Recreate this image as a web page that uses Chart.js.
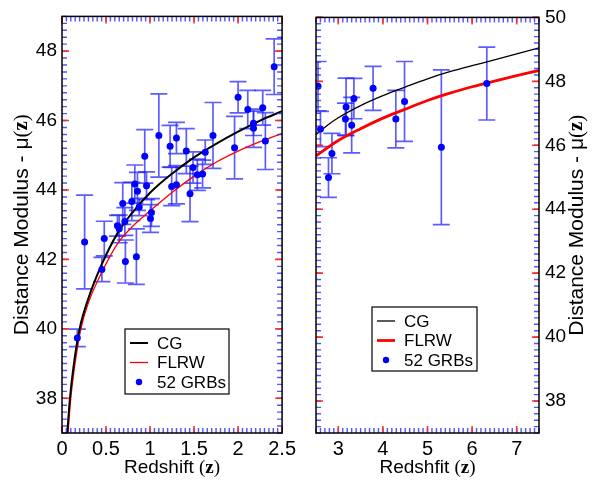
<!DOCTYPE html>
<html>
<head>
<meta charset="utf-8">
<script src="https://cdn.jsdelivr.net/npm/chart.js@4"></script>
<style>
  body { margin: 0; background: #fff; }
  #wrap { position: relative; width: 601px; height: 482px; }
  canvas { position: absolute; top: 0; }
  #left { left: 0; }
  #right { left: 300px; }
</style>
</head>
<body>
<div id="wrap">
  <canvas id="left" width="300" height="482"></canvas>
  <canvas id="right" width="301" height="482"></canvas>
</div>
<script>
// GRB points, low redshift panel
const lowZ   = [2.41, 2.00, 2.11, 2.28, 2.175, 2.175, 2.31, 1.96, 1.715, 1.627, 1.597, 1.537, 1.488, 1.412, 1.454, 1.30, 1.228, 1.246, 1.30, 1.10, 0.94, 0.96, 0.827, 0.857, 0.793, 0.69, 0.877, 1.016, 1.005, 0.714, 0.63, 0.65, 0.48, 0.174, 0.257, 0.453, 0.72, 0.845];
const lowMu  = [47.55, 46.67, 46.32, 46.37, 45.92, 45.78, 45.41, 45.22, 45.57, 45.09, 44.46, 44.44, 44.65, 45.12, 43.89, 45.50, 45.26, 44.10, 44.15, 45.57, 44.97, 44.12, 44.17, 43.96, 43.67, 43.61, 43.51, 43.35, 43.18, 43.09, 42.97, 42.88, 42.60, 39.74, 42.50, 41.71, 41.94, 42.08];
const lowErr = [0.80, 0.45, 0.55, 0.50, 0.35, 0.55, 0.82, 0.90, 0.95, 0.35, 0.40, 0.45, 0.45, 0.65, 0.80, 0.45, 0.60, 0.55, 0.55, 1.20, 0.77, 0.40, 0.55, 0.55, 0.55, 0.60, 0.25, 0.40, 0.40, 0.40, 0.30, 0.40, 0.50, 0.25, 1.35, 0.35, 0.62, 0.80];

// GRB points, high redshift panel
const highZ   = [2.545, 2.60, 2.78, 2.857, 3.175, 3.16, 3.30, 3.35, 3.78, 4.29, 4.485, 5.31, 6.33];
const highMu  = [47.85, 46.51, 44.99, 45.74, 47.20, 46.82, 46.63, 47.46, 47.78, 46.82, 47.37, 45.94, 47.93];
const highErr = [0.77, 0.55, 0.62, 0.63, 0.90, 0.50, 0.87, 0.63, 0.69, 0.90, 1.25, 2.42, 1.14];

// model curves
const cgLowZ    = [0.06, 0.09, 0.13, 0.2, 0.3, 0.45, 0.63, 0.8, 1.0, 1.25, 1.5, 1.75, 2.0, 2.25, 2.5];
const cgLowMu   = [37.0, 38.0, 38.9, 40.0, 40.88, 41.85, 42.75, 43.35, 43.92, 44.47, 44.94, 45.33, 45.68, 46.0, 46.27];
const flrwLowZ  = [0.068, 0.1, 0.14, 0.21, 0.3, 0.45, 0.63, 0.8, 1.0, 1.25, 1.5, 1.75, 2.0, 2.25, 2.5];
const flrwLowMu = [37.0, 38.0, 38.85, 39.95, 40.75, 41.62, 42.45, 42.95, 43.4, 43.93, 44.4, 44.8, 45.12, 45.39, 45.63];
const cgHighZ    = [2.5, 2.75, 3.0, 3.5, 4.0, 4.5, 5.0, 5.5, 6.0, 6.5, 7.0, 7.5];
const cgHighMu   = [46.33, 46.62, 46.86, 47.24, 47.55, 47.82, 48.08, 48.3, 48.49, 48.67, 48.86, 49.05];
const flrwHighZ  = [2.5, 3.0, 3.5, 4.0, 4.5, 5.0, 5.5, 6.0, 6.5, 7.0, 7.5];
const flrwHighMu = [45.67, 46.15, 46.52, 46.85, 47.13, 47.4, 47.63, 47.83, 48.01, 48.18, 48.34];

// tick labels
const xTicksLow  = [0, 0.5, 1, 1.5, 2, 2.5];
const yTicksLow  = [38, 40, 42, 44, 46, 48];
const xTicksHigh = [3, 4, 5, 6, 7];
const yTicksHigh = [38, 40, 42, 44, 46, 48, 50];

const SANS = '"Liberation Sans", Arial, sans-serif';
const SERIF = '"Liberation Serif", "Times New Roman", serif';

function pts(xs, ys) {
    return xs.map((v, i) => ({ x: v, y: ys[i] }));
}

// vertical error bars with caps, drawn under the datasets
const errorBars = {
    id: 'errorBars',
    beforeDatasetsDraw(chart) {
        const { ctx, chartArea: a, scales: { x, y } } = chart;
        ctx.save();
        ctx.beginPath();
        ctx.rect(a.left, a.top, a.right - a.left, a.bottom - a.top);
        ctx.clip();
        ctx.strokeStyle = 'rgba(30,30,255,0.72)';
        ctx.lineWidth = 1.7;
        chart.data.datasets.forEach(ds => {
            if (!ds.errors) return;
            ds.data.forEach((p, i) => {
                const px = x.getPixelForValue(p.x);
                const top = y.getPixelForValue(p.y + ds.errors[i]);
                const bot = y.getPixelForValue(p.y - ds.errors[i]);
                ctx.beginPath();
                ctx.moveTo(px, top); ctx.lineTo(px, bot);
                ctx.moveTo(px - 8.5, top); ctx.lineTo(px + 8.5, top);
                ctx.moveTo(px - 8.5, bot); ctx.lineTo(px + 8.5, bot);
                ctx.stroke();
            });
        });
        ctx.restore();
    }
};

// frame with inward ticks on all four sides
const frameTicks = {
    id: 'frameTicks',
    afterDraw(chart) {
        const ctx = chart.ctx;
        const a = chart.chartArea;
        const x = chart.scales.x, y = chart.scales.y;
        const step = chart.config.options.minorSteps;
        ctx.save();
        ctx.lineWidth = 1.4;
        ctx.strokeStyle = 'rgba(40,40,255,0.8)';
        ctx.beginPath();
        const nx = Math.round((x.max - x.min) / step.x);
        for (let i = 0; i <= nx; i++) {
            const px = x.getPixelForValue(x.min + i * step.x);
            ctx.moveTo(px, a.bottom); ctx.lineTo(px, a.bottom - 5);
            ctx.moveTo(px, a.top); ctx.lineTo(px, a.top + 5);
        }
        const ny = Math.round((y.max - y.min) / step.y);
        for (let i = 0; i <= ny; i++) {
            const py = y.getPixelForValue(y.min + i * step.y);
            ctx.moveTo(a.left, py); ctx.lineTo(a.left + 5, py);
            ctx.moveTo(a.right, py); ctx.lineTo(a.right - 5, py);
        }
        ctx.stroke();

        ctx.strokeStyle = 'rgba(255,40,40,0.95)';
        ctx.lineWidth = 1.6;
        ctx.beginPath();
        x.ticks.forEach(t => {
            const px = x.getPixelForValue(t.value);
            ctx.moveTo(px, a.bottom); ctx.lineTo(px, a.bottom - 7);
            ctx.moveTo(px, a.top); ctx.lineTo(px, a.top + 7);
        });
        y.ticks.forEach(t => {
            const py = y.getPixelForValue(t.value);
            ctx.moveTo(a.left, py); ctx.lineTo(a.left + 7, py);
            ctx.moveTo(a.right, py); ctx.lineTo(a.right - 7, py);
        });
        ctx.stroke();

        ctx.strokeStyle = '#000';
        ctx.lineWidth = 1.5;
        ctx.strokeRect(a.left, a.top, a.right - a.left, a.bottom - a.top);
        ctx.restore();
    }
};

function drawRich(ctx, parts, cx, cy, angle) {
    ctx.save();
    ctx.translate(cx, cy);
    ctx.rotate(angle);
    ctx.textBaseline = 'middle';
    ctx.textAlign = 'left';
    ctx.fillStyle = '#000';
    let total = 0;
    parts.forEach(p => { ctx.font = p.font; total += ctx.measureText(p.text).width; });
    let pos = -total / 2;
    parts.forEach(p => {
        ctx.font = p.font;
        ctx.fillText(p.text, pos, 0);
        pos += ctx.measureText(p.text).width;
    });
    ctx.restore();
}

// axis titles with the bold serif z
const axisTitles = {
    id: 'axisTitles',
    afterDraw(chart) {
        const t = chart.config.options.titles;
        const { ctx, chartArea: a } = chart;
        const yMid = (a.top + a.bottom) / 2;
        const xMid = (a.left + a.right) / 2;
        drawRich(ctx, [
            { text: 'Distance Modulus - μ', font: '21px ' + SANS },
            { text: '(', font: '21px ' + SERIF },
            { text: 'z', font: 'bold 21px ' + SERIF },
            { text: ')', font: '21px ' + SERIF }
        ], t.yTitleX, yMid, -Math.PI / 2);
        drawRich(ctx, [
            { text: t.xTitle + ' ', font: '19px ' + SANS },
            { text: '(', font: '19px ' + SERIF },
            { text: 'z', font: 'bold 19px ' + SERIF },
            { text: ')', font: '19px ' + SERIF }
        ], xMid, t.xTitleY, 0);
    }
};

// boxed legend inside the plot
const boxLegend = {
    id: 'boxLegend',
    afterDraw(chart) {
        const box = chart.config.options.legendBox;
        const { ctx } = chart;
        ctx.save();
        ctx.fillStyle = '#fff';
        ctx.fillRect(box.x, box.y, box.w, box.h);
        ctx.strokeStyle = '#000';
        ctx.lineWidth = 1.2;
        ctx.strokeRect(box.x, box.y, box.w, box.h);
        ctx.font = '17px ' + SANS;
        ctx.textBaseline = 'middle';
        ctx.textAlign = 'left';
        chart.data.datasets.forEach((ds, i) => {
            const ry = box.y + 14 + i * 19.5;
            if (ds.showLine) {
                ctx.strokeStyle = ds.borderColor;
                ctx.lineWidth = ds.legendWidth;
                ctx.beginPath();
                ctx.moveTo(box.x + 5, ry); ctx.lineTo(box.x + 23, ry);
                ctx.stroke();
            } else {
                ctx.fillStyle = ds.backgroundColor;
                ctx.beginPath();
                ctx.arc(box.x + 14, ry, 3.2, 0, Math.PI * 2);
                ctx.fill();
            }
            ctx.fillStyle = '#000';
            ctx.fillText(ds.label, box.x + 32, ry + 1);
        });
        ctx.restore();
    }
};

function makeChart(id, cfg) {
    const ctx = document.getElementById(id).getContext('2d');
    return new Chart(ctx, {
        type: 'scatter',
        data: {
            datasets: [{
                label: 'CG',
                data: pts(cfg.cgZ, cfg.cgMu),
                showLine: true,
                borderColor: '#000',
                borderWidth: cfg.cgWidth,
                legendWidth: cfg.cgWidth,
                pointRadius: 0,
                cubicInterpolationMode: 'monotone',
                order: 1
            }, {
                label: 'FLRW',
                data: pts(cfg.flrwZ, cfg.flrwMu),
                showLine: true,
                borderColor: '#ff0000',
                borderWidth: cfg.flrwWidth,
                legendWidth: cfg.flrwWidth,
                pointRadius: 0,
                cubicInterpolationMode: 'monotone',
                order: 2
            }, {
                label: '52 GRBs',
                data: pts(cfg.z, cfg.mu),
                errors: cfg.err,
                backgroundColor: '#0000ff',
                borderColor: '#0000ff',
                pointRadius: 3.5,
                pointBorderWidth: 0,
                order: 0
            }]
        },
        options: {
            responsive: false,
            animation: false,
            devicePixelRatio: 1,
            minorSteps: { x: cfg.xMinor, y: 0.2 },
            titles: { xTitle: cfg.xTitle, xTitleY: 468, yTitleX: cfg.yTitleX },
            legendBox: cfg.legend,
            layout: { autoPadding: false, padding: cfg.padding },
            scales: {
                x: {
                    type: 'linear',
                    min: cfg.xMin, max: cfg.xMax,
                    grid: { display: false, drawTicks: false },
                    border: { display: false },
                    afterBuildTicks: s => { s.ticks = cfg.xTicks.map(v => ({ value: v })); },
                    afterFit: s => { s.height = 49; },
                    ticks: {
                        autoSkip: false, maxRotation: 0, padding: 4,
                        color: '#000', font: { family: SANS, size: 20 },
                        callback: v => String(v)
                    }
                },
                y: {
                    type: 'linear',
                    position: cfg.yPos,
                    min: cfg.yMin, max: cfg.yMax,
                    grid: { display: false, drawTicks: false },
                    border: { display: false },
                    afterBuildTicks: s => { s.ticks = cfg.yTicks.map(v => ({ value: v })); },
                    afterFit: s => { s.width = 62; },
                    ticks: {
                        autoSkip: false, padding: cfg.yPad,
                        color: '#000', font: { family: SANS, size: 19 },
                        callback: v => String(v)
                    }
                }
            },
            plugins: {
                legend: { display: false },
                tooltip: { enabled: false }
            }
        },
        plugins: [errorBars, frameTicks, axisTitles, boxLegend]
    });
}

makeChart('left', {
    z: lowZ, mu: lowMu, err: lowErr,
    cgZ: cgLowZ, cgMu: cgLowMu, flrwZ: flrwLowZ, flrwMu: flrwLowMu,
    cgWidth: 2, flrwWidth: 1.3,
    xMin: 0, xMax: 2.5, yMin: 37, yMax: 49,
    xTicks: xTicksLow, yTicks: yTicksLow, xMinor: 0.05,
    yPos: 'left', yPad: 5,
    padding: { top: 13, right: 17, left: 0, bottom: 0 },
    xTitle: 'Redshift', yTitleX: 22,
    legend: { x: 125, y: 329, w: 104, h: 65 }
});

makeChart('right', {
    z: highZ, mu: highMu, err: highErr,
    cgZ: cgHighZ, cgMu: cgHighMu, flrwZ: flrwHighZ, flrwMu: flrwHighMu,
    cgWidth: 1.3, flrwWidth: 2.8,
    xMin: 2.5, xMax: 7.5, yMin: 37, yMax: 50,
    xTicks: xTicksHigh, yTicks: yTicksHigh, xMinor: 0.1,
    yPos: 'right', yPad: 6,
    padding: { top: 13, right: 0, left: 16, bottom: 0 },
    xTitle: 'Redshfit', yTitleX: 277,
    legend: { x: 72, y: 307, w: 105, h: 64 }
});
</script>
</body>
</html>
